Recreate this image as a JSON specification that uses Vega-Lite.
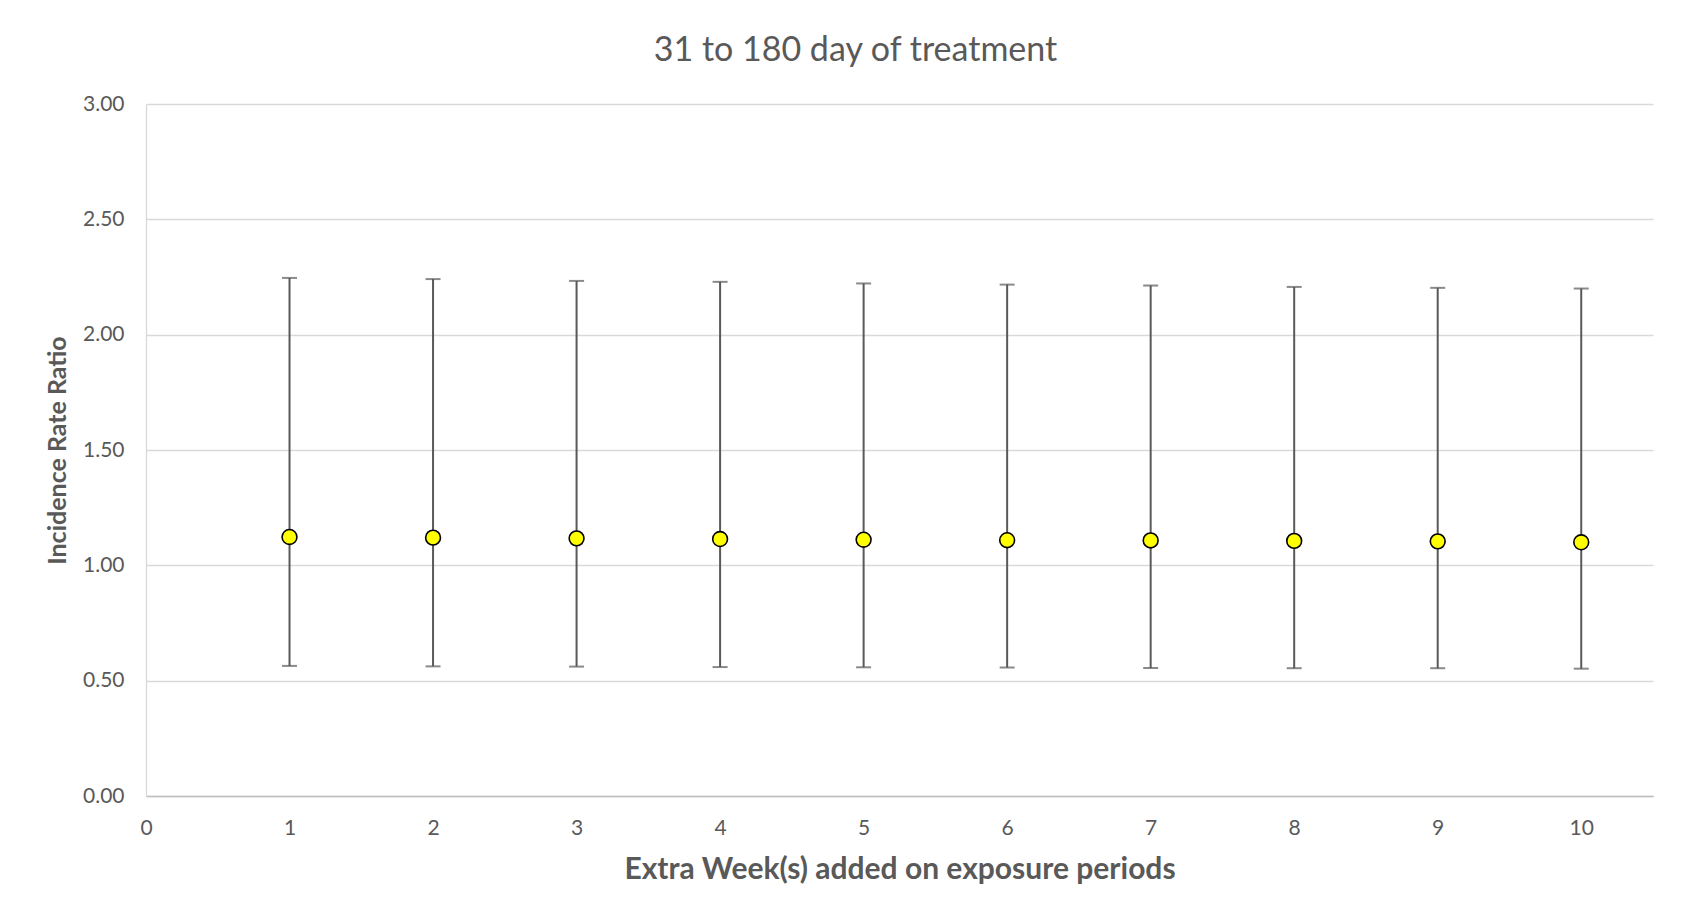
{
  "$schema": "https://vega.github.io/schema/vega-lite/v6.json",
  "autosize": {"type": "none"},
  "padding": {"left": 146, "top": 104, "right": 50, "bottom": 125},
  "width": 1507,
  "height": 692,
  "background": "white",
  "title": {
    "text": "31 to 180 day of treatment",
    "font": "Lato",
    "fontSize": 34,
    "fontWeight": "normal",
    "color": "#595959",
    "anchor": "middle",
    "frame": "group",
    "dx": -44,
    "offset": 25
  },
  "data": {
    "values": [
      {"week": 1, "irr": 1.123, "lo": 0.564, "hi": 2.246},
      {"week": 2, "irr": 1.120, "lo": 0.562, "hi": 2.241},
      {"week": 3, "irr": 1.117, "lo": 0.561, "hi": 2.233},
      {"week": 4, "irr": 1.114, "lo": 0.559, "hi": 2.229},
      {"week": 5, "irr": 1.111, "lo": 0.558, "hi": 2.222},
      {"week": 6, "irr": 1.109, "lo": 0.557, "hi": 2.217},
      {"week": 7, "irr": 1.108, "lo": 0.555, "hi": 2.213},
      {"week": 8, "irr": 1.106, "lo": 0.554, "hi": 2.207},
      {"week": 9, "irr": 1.104, "lo": 0.554, "hi": 2.203},
      {"week": 10, "irr": 1.100, "lo": 0.552, "hi": 2.200}
    ]
  },
  "encoding": {
    "x": {
      "field": "week",
      "type": "quantitative",
      "scale": {"domain": [0, 10.5], "nice": false, "zero": false},
      "axis": {
        "title": "Extra Week(s) added on exposure periods",
        "values": [0, 1, 2, 3, 4, 5, 6, 7, 8, 9, 10],
        "format": "d",
        "grid": false,
        "ticks": false,
        "labelFlush": false,
        "domainColor": "#bfbfbf",
        "domainWidth": 1.5,
        "labelFont": "Lato",
        "labelFontSize": 21,
        "labelColor": "#595959",
        "labelPadding": 21,
        "titleFont": "Lato",
        "titleFontSize": 30,
        "titleFontWeight": "bold",
        "titleColor": "#595959",
        "titlePadding": 16
      }
    }
  },
  "layer": [
    {
      "mark": {"type": "rule", "color": "#595959", "strokeWidth": 2},
      "encoding": {
        "y": {
          "field": "lo",
          "type": "quantitative",
          "scale": {"domain": [0, 3], "nice": false},
          "axis": {
            "title": "Incidence Rate Ratio",
            "values": [0, 0.5, 1, 1.5, 2, 2.5, 3],
            "format": ".2f",
            "ticks": false,
            "grid": true,
            "gridColor": "#d9d9d9",
            "gridWidth": 1.3,
            "domainColor": "#d9d9d9",
            "domainWidth": 1.3,
            "labelFont": "Lato",
            "labelFontSize": 21,
            "labelColor": "#595959",
            "labelPadding": 22,
            "titleFont": "Lato",
            "titleFontSize": 25,
            "titleFontWeight": "bold",
            "titleColor": "#595959",
            "titlePadding": 12
          }
        },
        "y2": {"field": "hi"}
      }
    },
    {
      "mark": {"type": "tick", "color": "#595959", "orient": "horizontal", "size": 15, "thickness": 2},
      "encoding": {"y": {"field": "lo", "type": "quantitative"}}
    },
    {
      "mark": {"type": "tick", "color": "#595959", "orient": "horizontal", "size": 15, "thickness": 2},
      "encoding": {"y": {"field": "hi", "type": "quantitative"}}
    },
    {
      "mark": {"type": "point", "shape": "circle", "filled": true, "fill": "#ffff00", "stroke": "black", "strokeWidth": 1.6, "size": 220, "opacity": 1},
      "encoding": {"y": {"field": "irr", "type": "quantitative"}}
    }
  ],
  "config": {"view": {"stroke": null}}
}
